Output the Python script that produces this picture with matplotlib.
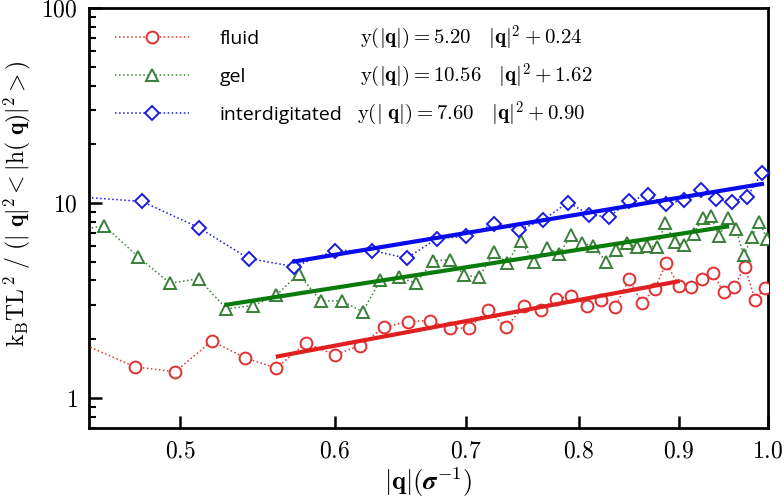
import matplotlib
matplotlib.use('Agg')
import matplotlib.pyplot as plt
from matplotlib.ticker import FixedLocator, NullFormatter, LogLocator

plt.rcParams['mathtext.fontset'] = 'cm'
plt.rcParams['font.family'] = 'serif'
plt.rcParams['font.serif'] = ['DejaVu Serif']

# data
q_fluid = [0.440, 0.474, 0.497, 0.519, 0.540, 0.560, 0.580, 0.600, 0.618, 0.636,
           0.654, 0.671, 0.687, 0.703, 0.719, 0.734, 0.750, 0.765, 0.779, 0.793,
           0.808, 0.821, 0.835, 0.849, 0.862, 0.875, 0.887, 0.900, 0.913, 0.925,
           0.937, 0.949, 0.961, 0.973, 0.985, 0.996]
s_fluid = [2.00, 1.44, 1.36, 1.95, 1.60, 1.42, 1.91, 1.66, 1.85, 2.30,
           2.46, 2.49, 2.27, 2.28, 2.83, 2.30, 2.94, 2.83, 3.21, 3.34,
           2.97, 3.16, 2.92, 4.05, 3.06, 3.61, 4.91, 3.75, 3.68, 4.06,
           4.39, 3.47, 3.72, 4.71, 3.18, 3.65]

q_gel = [0.440, 0.457, 0.476, 0.494, 0.511, 0.528, 0.545, 0.560, 0.575, 0.590,
         0.605, 0.620, 0.633, 0.647, 0.660, 0.674, 0.687, 0.699, 0.711, 0.724,
         0.735, 0.747, 0.759, 0.771, 0.782, 0.793, 0.803, 0.814, 0.826, 0.836,
         0.847, 0.857, 0.867, 0.877, 0.886, 0.896, 0.906, 0.916, 0.926, 0.935,
         0.944, 0.954, 0.963, 0.972, 0.981, 0.990, 0.999]
s_gel = [7.10, 7.65, 5.27, 3.87, 4.08, 2.86, 2.97, 3.36, 4.32, 3.14,
         3.14, 2.76, 4.00, 4.16, 3.87, 5.04, 5.10, 4.27, 4.14, 5.59,
         4.91, 6.36, 5.00, 5.86, 5.48, 6.85, 6.21, 6.02, 5.00, 5.74,
         6.21, 5.93, 6.02, 5.93, 7.87, 6.26, 6.09, 6.93, 8.35, 8.51,
         6.72, 8.35, 7.33, 5.37, 6.67, 8.02, 6.51]

q_inter = [0.440, 0.478, 0.511, 0.542, 0.572, 0.600, 0.627, 0.653, 0.677, 0.700,
           0.724, 0.746, 0.767, 0.790, 0.810, 0.829, 0.849, 0.868, 0.887, 0.906,
           0.924, 0.941, 0.958, 0.976, 0.993]
s_inter = [10.80, 10.16, 7.47, 5.18, 4.71, 5.69, 5.69, 5.20, 6.56, 6.72,
           7.80, 7.27, 8.18, 10.04, 8.71, 8.44, 10.24, 10.95, 9.85, 10.36,
           11.66, 10.44, 10.12, 10.77, 14.2]

# fitted lines (start/end)
fit_q = {'fluid': [0.561, 0.899], 'gel': [0.528, 0.953], 'inter': [0.572, 0.993]}
fit_s = {'fluid': [1.63, 3.95], 'gel': [3.00, 7.56], 'inter': [5.00, 12.5]}

labels = ['fluid', 'gel', 'interdigitated']
eqs = [r'$\mathrm{y}(|\mathbf{q}|)=5.20\ \ \ |\mathbf{q}|^2+0.24$',
       r'$\mathrm{y}(|\mathbf{q}|)=10.56\ \ \ |\mathbf{q}|^2+1.62$',
       r'$\mathrm{y}(|\ \mathbf{q}|)=7.60\ \ \ |\mathbf{q}|^2+0.90$']

c_red, c_red_fit = '#e03030', '#e02020'
c_green, c_green_fit = '#3a7f3a', '#0a7a0a'
c_blue, c_blue_fit = '#1a1ae0', '#0a0aee'

fig = plt.figure(figsize=(7.84, 4.97), dpi=100)
ax = fig.add_axes([0.1135, 0.139, 0.866, 0.845])

mk = dict(markersize=8.5, markeredgewidth=1.4, markerfacecolor='white',
          linestyle=':', linewidth=1.1)

ax.plot(q_fluid, s_fluid, marker='o', color=c_red, label=labels[0], zorder=3, **mk)
ax.plot(q_gel, s_gel, marker='^', color=c_green, label=labels[1], zorder=3, **mk)
ax.plot(q_inter, s_inter, marker='D', color=c_blue, label=labels[2], zorder=3,
        **dict(mk, markersize=7.0))

ax.plot(fit_q['fluid'], fit_s['fluid'], color=c_red_fit, lw=3, zorder=4)
ax.plot(fit_q['gel'], fit_s['gel'], color=c_green_fit, lw=3, zorder=4)
ax.plot(fit_q['inter'], fit_s['inter'], color=c_blue_fit, lw=3, zorder=4)

ax.set_xscale('log')
ax.set_yscale('log')
ax.set_xlim(0.449, 1.0)
ax.set_ylim(0.70, 100)

xt = [0.5, 0.6, 0.7, 0.8, 0.9, 1.0]
ax.xaxis.set_major_locator(FixedLocator(xt))
ax.xaxis.set_minor_locator(FixedLocator([]))
ax.set_xticklabels([r'$%.1f$' % v for v in xt])
ax.xaxis.set_minor_formatter(NullFormatter())

ax.yaxis.set_major_locator(FixedLocator([1, 10, 100]))
ax.set_yticklabels([r'$1$', r'$10$', r'$100$'])
ax.yaxis.set_minor_locator(LogLocator(base=10, subs=range(2, 10)))
ax.yaxis.set_minor_formatter(NullFormatter())

ax.tick_params(which='major', direction='in', length=9, width=1.8,
               labelsize=17, top=False, right=False, pad=8)
ax.tick_params(which='minor', direction='in', length=5, width=1.5,
               top=False, right=False)
for sp in ax.spines.values():
    sp.set_linewidth(2)

ax.set_xlabel(r'$|\mathbf{q}|(\boldsymbol{\sigma}^{-1})$', fontsize=19, labelpad=2)
ax.set_ylabel(r'$\mathrm{k_BTL}^{\,2}\ /\ (|\ \mathbf{q}|^2{<}|\mathrm{h}(\ \mathbf{q})|^2{>})$',
              fontsize=17)
ax.yaxis.set_label_coords(-0.083, 0.535)

leg = ax.legend(loc='upper left', bbox_to_anchor=(0.038, 0.947), frameon=False,
                prop={'family': 'Open Sans', 'size': 14}, handlelength=3.8,
                labelspacing=1.02, handletextpad=1.6, borderaxespad=0.0,
                borderpad=0.0)

for i, e in enumerate(eqs):
    ax.text(0.399 - (0.004 if i == 2 else 0), 0.929 - i * 0.0905, e,
            transform=ax.transAxes, fontsize=15, va='center', ha='left')

fig.savefig('out.png', dpi=100)
